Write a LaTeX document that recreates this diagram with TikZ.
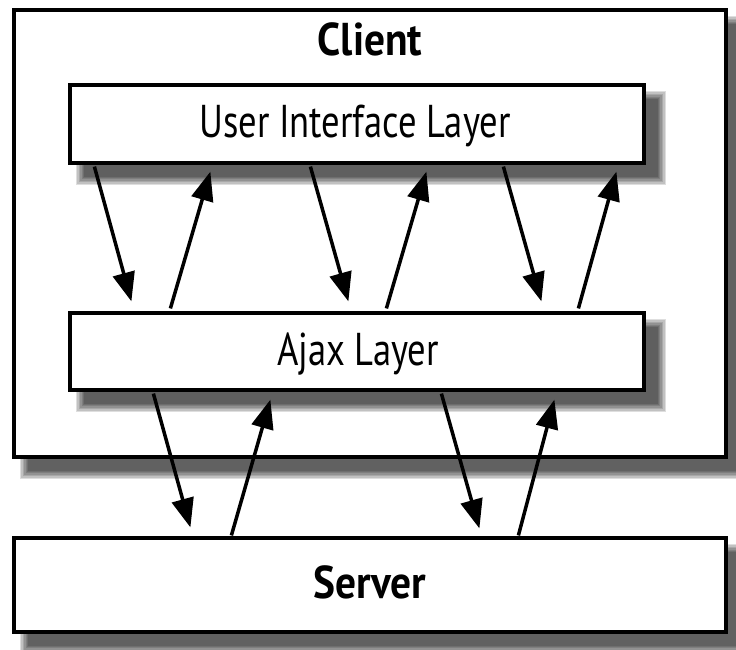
\documentclass[tikz,border=0pt]{standalone}
\usepackage{fontspec}
\setmainfont{PT Sans}[FakeStretch=0.795,BoldFeatures={FakeStretch=0.9}]
\usetikzlibrary{arrows.meta,calc}
\newcommand\softshadow[2]{%
  \foreach \i in {0,...,6}{%
    \fill[black,opacity=0.13] ($(#1)+(14-8+1.4*\i,14-8+1.4*\i)$) rectangle ($(#2)+(14+8-1.4*\i,14+8-1.4*\i)$);
  }}
\begin{document}
\begin{tikzpicture}[x=1pt,y=-1pt,
  box/.style={draw=black,line width=3.2pt,fill=white,rectangle,inner sep=0pt},
  lbl/.style={font=\fontsize{46}{50}\selectfont},
  blbl/.style={font=\fontsize{46}{50}\selectfont\bfseries},
  arr/.style={line width=3.5pt,-{Triangle[length=29pt,width=22pt]}}]
\useasboundingbox (0,0) rectangle (736,649);
% shadows
\softshadow{14,10}{726,457}
\softshadow{14,538}{726,632}
% client
\node[box,minimum width=712pt,minimum height=447pt] (client) at (370,233.5) {};
\node[blbl,anchor=base] (clientlbl) at (370,55) {Client};
\softshadow{70,85}{644,163}
\softshadow{70,313}{644,390}
\node[box,minimum width=574pt,minimum height=78pt] (ui) at (357,124) {};
\node[lbl,anchor=base] (uilbl) at (355,137) {User Interface Layer};
\node[box,minimum width=574pt,minimum height=77pt] (ajax) at (357,351.5) {};
\node[lbl,anchor=base] (ajaxlbl) at (358,365) {Ajax Layer};
\node[box,minimum width=712pt,minimum height=94pt] (server) at (370,585) {};
\node[blbl,anchor=base] (serverlbl) at (370,598) {Server};
% arrows UI <-> Ajax
\draw[arr] ($(ui.south west)+(26,2)$) -- ($(ajax.north west)+(63,-10)$);
\draw[arr] ($(ajax.north west)+(102,-3)$) -- ($(ui.south west)+(142,7)$);
\draw[arr] ($(ui.south west)+(242,2)$) -- ($(ajax.north west)+(280,-10)$);
\draw[arr] ($(ajax.north west)+(318,-3)$) -- ($(ui.south west)+(358,7)$);
\draw[arr] ($(ui.south west)+(435,2)$) -- ($(ajax.north west)+(473,-10)$);
\draw[arr] ($(ajax.north west)+(510,-3)$) -- ($(ui.south west)+(548,7)$);
% arrows Ajax <-> Server
\draw[arr] ($(ajax.south west)+(85,2)$) -- ($(server.north west)+(178,-9)$);
\draw[arr] ($(server.north west)+(219,-1)$) -- ($(ajax.south west)+(202,8)$);
\draw[arr] ($(ajax.south west)+(373,2)$) -- ($(server.north west)+(467,-8)$);
\draw[arr] ($(server.north west)+(506,-1)$) -- ($(ajax.south west)+(486,8)$);
\end{tikzpicture}
\end{document}
